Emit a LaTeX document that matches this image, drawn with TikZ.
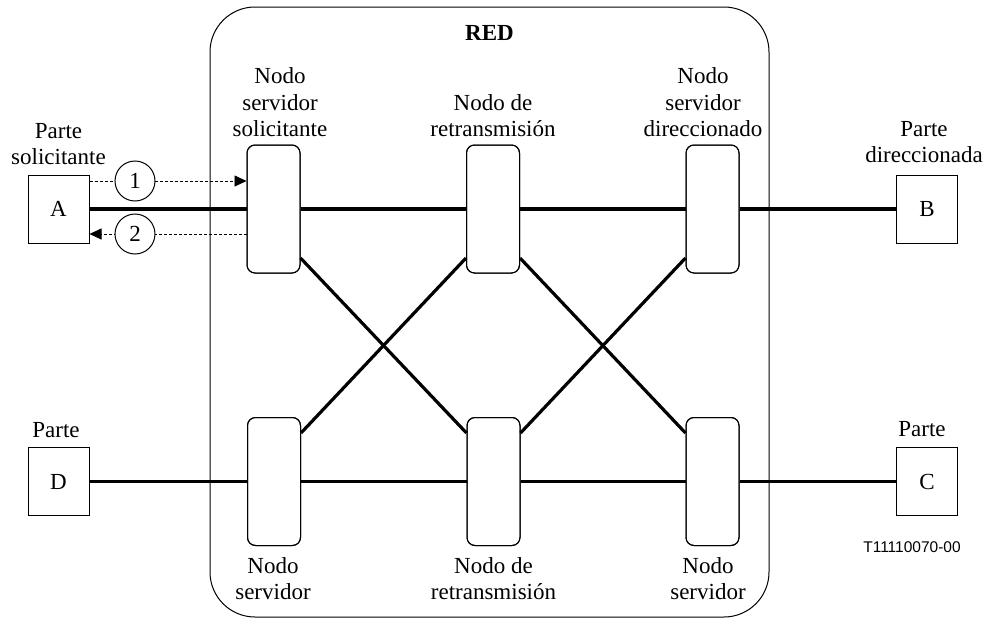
\documentclass[tikz,border=0pt]{standalone}
\usepackage{fontspec}
\setmainfont{Liberation Serif}
\newfontfamily\sansf{Liberation Sans}
\usetikzlibrary{arrows.meta,calc}
\begin{document}
\begin{tikzpicture}[x=1pt,y=-1pt,
  lbl/.style={font=\fontsize{23}{26.5}\selectfont, align=center, inner sep=0pt},
  party/.style={draw, line width=1pt, minimum width=61pt, minimum height=68pt, inner sep=0pt, font=\fontsize{23}{26.5}\selectfont},
  netnode/.style={draw, line width=1pt, rounded corners=8pt, minimum width=53pt, minimum height=128pt, inner sep=0pt, fill=white},
  thickline/.style={line width=3.2pt},
  msg/.style={line width=0.8pt, dash pattern=on 3pt off 2pt},
  num/.style={draw, circle, line width=1pt, minimum size=40pt, inner sep=0pt, fill=white, font=\fontsize{23}{26.5}\selectfont}
]
\useasboundingbox (0,0) rectangle (988,621);
% network boundary
\draw[line width=1pt, rounded corners=45pt] (210,7) rectangle (769,617);
\node[lbl, font=\fontsize{23}{26.5}\selectfont\bfseries, anchor=base] (red) at (489.5,40) {RED};

% network nodes
\node[netnode] (n1) at (273.5,209) {};
\node[netnode] (n2) at (493,209) {};
\node[netnode] (n3) at (712.5,209) {};
\node[netnode] (m1) at (274,481.5) {};
\node[netnode] (m2) at (493.5,481.5) {};
\node[netnode] (m3) at (712.5,481.5) {};

% parties
\node[party] (A) at (58.5,209) {A};
\node[party] (B) at (927,209) {B};
\node[party] (D) at (58.5,481.5) {D};
\node[party] (C) at (927,481.5) {C};

% thick links
\draw[thickline] (A.east) -- (n1.west);
\draw[thickline] (n1.east) -- (n2.west);
\draw[thickline] (n2.east) -- (n3.west);
\draw[thickline] (n3.east) -- (B.west);
\draw[thickline] (D.east) -- (m1.west);
\draw[thickline] (m1.east) -- (m2.west);
\draw[thickline] (m2.east) -- (m3.west);
\draw[thickline] (m3.east) -- (C.west);
% diagonals
\draw[thickline] ($(n1.east)+(0,49)$) -- ($(m2.west)+(0,-48.5)$);
\draw[thickline] ($(m1.east)+(0,-48.5)$) -- ($(n2.west)+(0,49)$);
\draw[thickline] ($(n2.east)+(0,49)$) -- ($(m3.west)+(0,-48.5)$);
\draw[thickline] ($(m2.east)+(0,-48.5)$) -- ($(n3.west)+(0,49)$);

% redraw node outlines on top
\foreach \n in {n1,n2,n3,m1,m2,m3} {\node[netnode, fill=none] at (\n) {};}

% messages
\coordinate (a1) at ($(A.east)+(0,-28)$);
\coordinate (a2) at ($(A.east)+(0,25)$);
\draw[msg, -{Triangle[length=12pt,width=11pt]}] (a1) -- (a1 -| n1.west);
\draw[msg, -{Triangle[length=12pt,width=11pt]}] (a2 -| n1.west) -- (a2);
\node[num] (c1) at (135,181) {1};
\node[num] (c2) at (135,234) {2};

% labels
\node[lbl, anchor=south] (l1) at (280,137) {Nodo\\servidor\\solicitante};
\node[lbl, anchor=south] (l2) at (493,137) {Nodo de\\retransmisión};
\node[lbl, anchor=south] (l3) at (703,137) {Nodo\\servidor\\direccionado};
\node[lbl, anchor=north] (b1) at (273,557) {Nodo\\servidor};
\node[lbl, anchor=north] (b2) at (493.5,557) {Nodo de\\retransmisión};
\node[lbl, anchor=north] (b3) at (708,557) {Nodo\\servidor};
\node[lbl, anchor=south] (pa) at (58.5,165) {Parte\\solicitante};
\node[lbl, anchor=south] (pb) at (924,163) {Parte\\direccionada};
\node[lbl, anchor=south] (pd) at (56,438) {Parte};
\node[lbl, anchor=south] (pc) at (922,437) {Parte};
\node[inner sep=0pt, font=\sansf\fontsize{15.5}{18}\selectfont] (ref) at (912,547) {T11110070-00};
\end{tikzpicture}
\end{document}
